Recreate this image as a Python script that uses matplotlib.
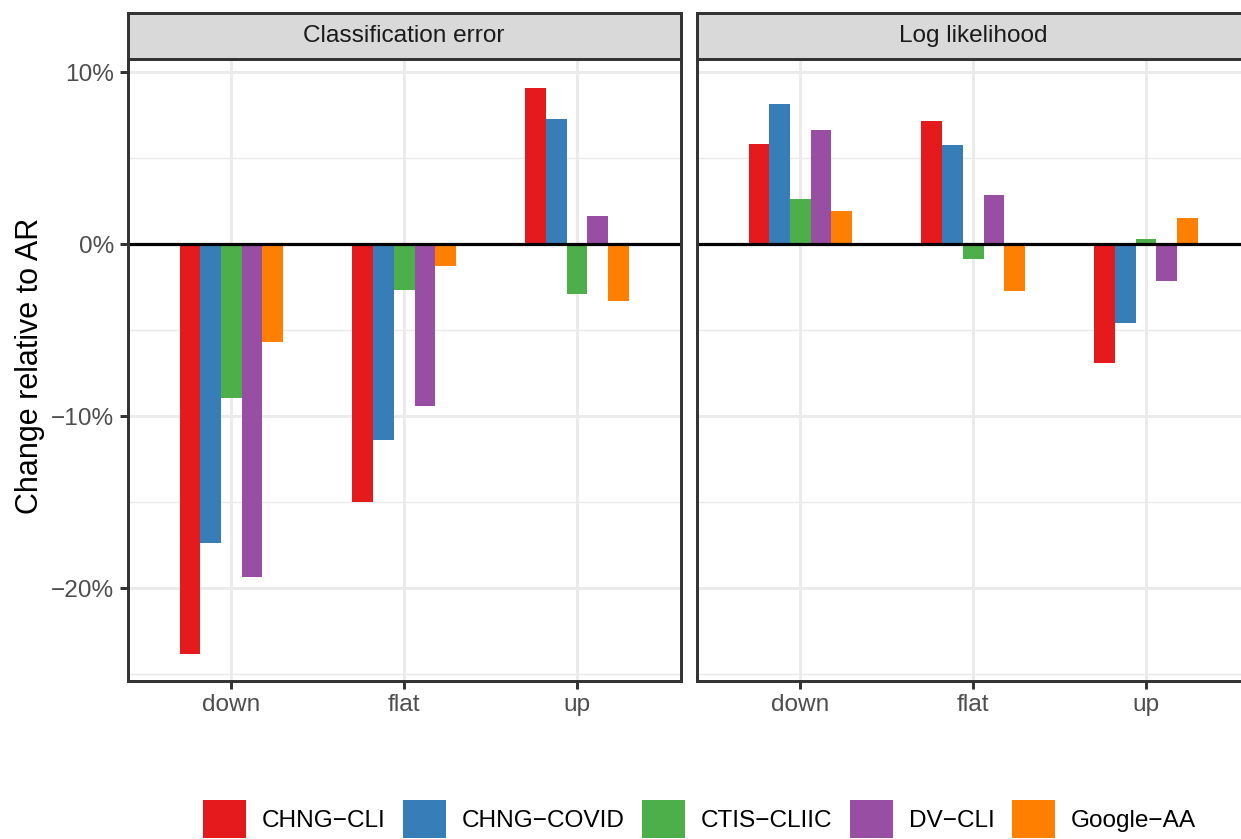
import matplotlib
matplotlib.use("Agg")
import matplotlib.pyplot as plt
from matplotlib.patches import Patch
from matplotlib.ticker import FixedLocator
import numpy as np

plt.rcParams['font.family'] = ['Liberation Sans', 'DejaVu Sans']

directions = ["down", "flat", "up"]
indicators = ["CHNG\u2212CLI", "CHNG\u2212COVID", "CTIS\u2212CLIIC", "DV\u2212CLI", "Google\u2212AA"]
colors = ["#E41A1C", "#377EB8", "#4DAF4A", "#984EA3", "#FF7F00"]
facets = ["Classification error", "Log likelihood"]

# percent change relative to AR, one row per indicator, columns = down / flat / up
class_err = [
    [-23.82, -14.98, 9.09],
    [-17.37, -11.35, 7.28],
    [-8.92, -2.66, -2.89],
    [-19.34, -9.38, 1.65],
    [-5.68, -1.26, -3.28],
]
log_lik = [
    [5.83, 7.17, -6.90],
    [8.16, 5.77, -4.58],
    [2.63, -0.85, 0.31],
    [6.64, 2.87, -2.12],
    [1.94, -2.70, 1.53],
]
panel_data = [class_err, log_lik]

W, H = 1241, 839
DPI = 200
fig = plt.figure(figsize=(W / DPI, H / DPI), dpi=DPI)

grey20 = "#333333"
grey30 = "#4D4D4D"
grid_col = "#EBEBEB"
lw = 1.07

def px_axes(x0, y0, x1, y1):
    # pixel box (top-left origin) -> figure axes
    return fig.add_axes([x0 / W, 1 - y1 / H, (x1 - x0) / W, (y1 - y0) / H])

panel_w = 553
lefts = [127.7, 696.7]
top, bottom = 59.3, 680.7
strip_top = 13.3

x = np.arange(1, len(directions) + 1)
bar_w = 0.12
offsets = (np.arange(len(indicators)) - 2) * bar_w

for i, (left, name, data) in enumerate(zip(lefts, facets, panel_data)):
    ax = px_axes(left, top, left + panel_w, bottom)
    ax.set_xlim(0.4, 3.6)
    ax.set_ylim(-25.37, 10.76)

    ax.yaxis.set_major_locator(FixedLocator([-20, -10, 0, 10]))
    ax.yaxis.set_minor_locator(FixedLocator([-25, -15, -5, 5]))
    ax.set_xticks(x)
    ax.grid(True, which="major", color=grid_col, linewidth=lw, zorder=0)
    ax.grid(True, which="minor", axis="y", color=grid_col, linewidth=lw / 2, zorder=0)
    ax.set_axisbelow(True)

    for vals, col, off in zip(data, colors, offsets):
        ax.bar(x + off, vals, width=bar_w, color=col, zorder=2)
    ax.axhline(0, color="black", linewidth=1.15, zorder=3)

    for sp in ax.spines.values():
        sp.set_color(grey20)
        sp.set_linewidth(lw)
        sp.set_zorder(4)

    ax.tick_params(which="major", length=2.75, width=lw, color=grey20,
                   labelsize=8.8, labelcolor=grey30, pad=2.2)
    ax.tick_params(which="minor", length=0)
    ax.set_xticklabels(directions)
    if i == 0:
        ax.set_yticklabels(["\u221220%", "\u221210%", "0%", "10%"])
    else:
        ax.tick_params(axis="y", which="both", left=False, labelleft=False)

    # facet strip
    sax = px_axes(left, strip_top, left + panel_w, top)
    sax.set_facecolor("#D9D9D9")
    sax.set_xticks([])
    sax.set_yticks([])
    for sp in sax.spines.values():
        sp.set_color(grey20)
        sp.set_linewidth(lw)
    sax.text(0.5, 0.5, name, ha="center", va="center", fontsize=8.8,
             color="#1A1A1A", transform=sax.transAxes)

fig.text(30 / W, 1 - 366 / H, "Change relative to AR", rotation=90,
         ha="center", va="center", fontsize=11, color="black")

handles = [Patch(facecolor=c, edgecolor="none") for c in colors]
fig.legend(handles, indicators, loc="center", ncol=5, frameon=False,
           bbox_to_anchor=(699.5 / W, 1 - 819 / H), fontsize=8.8,
           handlelength=1.76, handleheight=1.97, handletextpad=0.66,
           columnspacing=0.7, borderpad=0, borderaxespad=0)

fig.savefig("out.png", dpi=DPI)
